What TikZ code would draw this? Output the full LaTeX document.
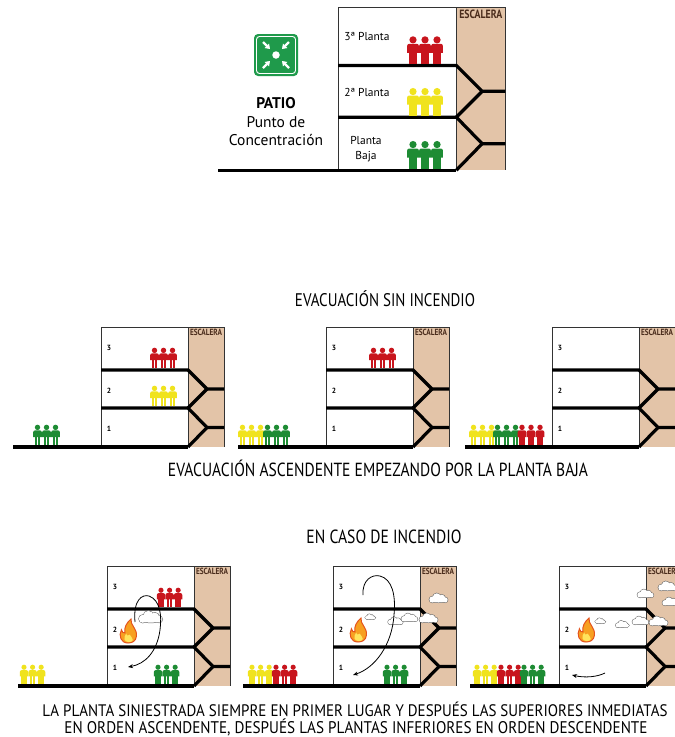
\documentclass[tikz,border=0pt]{standalone}
\usepackage{fontspec}
\usepackage{graphicx}
\setmainfont{PT Sans}
\newfontfamily\condensada[FakeStretch=0.82]{PT Sans}
\newfontfamily\piefuente[FakeStretch=0.9]{PT Sans}
\usetikzlibrary{arrows.meta}

\definecolor{rojo}{HTML}{C8151D}
\definecolor{amarillo}{HTML}{F0E31E}
\definecolor{verde}{HTML}{1E8C34}
\definecolor{escalera}{HTML}{E3C4A8}
\definecolor{verdeicono}{HTML}{1F9A4B}
\definecolor{marron}{HTML}{4A2C1C}
\definecolor{llamaext}{HTML}{E4531E}
\definecolor{llamamed}{HTML}{F7A021}
\definecolor{llamaint}{HTML}{FFE45C}

\tikzset{
  suelo/.style={line width=3.2pt, black},
  muro/.style={line width=0.8pt, black!80},
  flecha/.style={line width=0.8pt, -{Stealth[length=5pt,width=4pt]}},
  rotulo/.style={inner sep=0, font=\condensada},
  planta/.style={inner sep=0, font=\bfseries\fontsize{7.5}{8}\selectfont},
  patio/.style={inner sep=0, font=\fontsize{15.5}{17}\selectfont},
  etiqueta/.style={inner sep=0, font=\fontsize{11.5}{12}\selectfont},
  persona/.pic={
    \fill[pic actions] (0,-20.6) circle (3.1);
    \fill[pic actions] (-5,-9.5) [rounded corners=2] -- (-5,-17.2) -- (5,-17.2) [sharp corners] -- (5,-9.5) -- cycle;
    \fill[pic actions] (-3.3,0) rectangle (-0.35,-10.5);
    \fill[pic actions] (0.35,0) rectangle (3.3,-10.5);
  },
  fuego/.pic={
    \filldraw[fill=llamamed, draw=llamaext, line width=1pt]
      (0,0) .. controls (-6,0) and (-8,-6) .. (-5.5,-11)
      .. controls (-5,-8.5) and (-3.5,-8) .. (-2.5,-8.5)
      .. controls (-3.5,-13) and (-1,-17) .. (2.5,-20)
      .. controls (1.5,-15) and (8,-12) .. (7,-5.5)
      .. controls (6.5,-1.5) and (3.5,0) .. (0,0) -- cycle;
    \fill[llamaint]
      (0.5,-0.8) .. controls (-3.5,-0.8) and (-4,-4.5) .. (-1.5,-8)
      .. controls (-1,-5.5) and (0.5,-6) .. (1.5,-7)
      .. controls (2,-5) and (4.5,-4) .. (4,-2.5)
      .. controls (3.6,-1.2) and (2.5,-0.8) .. (0.5,-0.8) -- cycle;
  },
  nube/.pic={
    \draw[line width=1pt, black!62]
      (-4.5,-2) circle (2.5) (-1,-3.8) circle (3.2) (3,-3.1) circle (2.8)
      (5.7,-1.7) circle (2.1) (0.5,-1.2) ellipse (6 and 1.6);
    \fill[white]
      (-4.5,-2) circle (2.5) (-1,-3.8) circle (3.2) (3,-3.1) circle (2.8)
      (5.7,-1.7) circle (2.1) (0.5,-1.2) ellipse (6 and 1.6);
  }
}

% Building section: #1 left, #2 top, #3 scale, #4 start of the ground line,
% #5 width of the ESCALERA label, #6 name prefix
\newcommand\Edificio[6]{%
  \begin{scope}[shift={(#1,#2)}, scale=#3]
    \fill[escalera] (87,0) rectangle (123,120);
    \draw[muro] (0,120) -- (0,0) -- (123,0) -- (123,120);
    \draw[muro] (87,0) -- (87,120);
    \draw[suelo] (0,43) -- (87,43) -- (106,62) -- (123,62);
    \draw[suelo] (106,62) -- (87,81);
    \draw[suelo] (0,81) -- (87,81) -- (106,100.5) -- (123,100.5);
    \draw[suelo] (106,100.5) -- (87,120);
    \draw[suelo] ({(#4-#1)/#3},120) -- (87,120);
    \node[inner sep=0, anchor=north, text=marron, font=\bfseries\condensada]
      (#6-esc) at (105,2.2) {\resizebox{#5}{!}{ESCALERA}};
  \end{scope}}

% Floor numbers of the small sections
\newcommand\Numeros[3]{%
  \node[planta] (#3-n3) at (#1+8,#2+21) {3};
  \node[planta] (#3-n2) at (#1+8,#2+64) {2};
  \node[planta] (#3-n1) at (#1+8,#2+102) {1};}

% Three people: #1 first centre x, #2 feet y, #3 colour, #4 height
\newcommand\Grupo[4]{%
  \foreach \k in {0,1,2}{\pic[fill=#3, scale=#4/24] at ({#1+\k*10.3*#4/24},#2) {persona};}}

\begin{document}
\begin{tikzpicture}[x=1pt, y=-1pt]
\useasboundingbox (0,0) rectangle (675,737);
\fill[white] (0,0) rectangle (675,737);
\clip (0,0) rectangle (675,737);

% ---------- assembly point and main building ----------
\fill[verdeicono] (254,34) [rounded corners=4] rectangle (298,76);
\draw[white, line width=0.9pt, rounded corners=3] (256.5,36.5) rectangle (295.5,73.5);
\node[circle, fill=white, inner sep=0, minimum size=7.5pt] (punto) at (276,55) {};
\foreach \dx/\dy in {1/1,1/-1,-1/1,-1/-1}{
  \draw[white, line width=2.2pt, -{Triangle[length=4.5pt,width=6pt]}]
    (276+13*\dx,55+13*\dy) -- (276+6*\dx,55+6*\dy);}

\node[patio, font=\bfseries\fontsize{15.5}{17}\selectfont] (patio) at (276,103) {PATIO};
\node[patio] (puntode) at (276,122) {Punto de};
\node[patio] (concentracion) at (276,140) {Concentración};

\Edificio{338}{7}{1.36}{218}{43pt}{sup}
\node[etiqueta] (p3) at (367,36) {3ª Planta};
\node[etiqueta] (p2) at (367,92) {2ª Planta};
\node[etiqueta, align=center, font=\fontsize{11.5}{15.5}\selectfont] (pb) at (366,149) {Planta\\Baja};
\Grupo{413}{63.9}{rojo}{28}
\Grupo{413}{115.6}{amarillo}{28}
\Grupo{413}{168.6}{verde}{28}

% ---------- evacuation without fire ----------
\node[rotulo] (titulo1) at (385,299) {\resizebox{180pt}{!}{EVACUACIÓN SIN INCENDIO}};

\Edificio{101}{327}{1}{13}{32pt}{a1}
\Numeros{101}{327}{a1}
\Grupo{154.5}{368.4}{rojo}{21}
\Grupo{154.5}{406.4}{amarillo}{21}
\Grupo{37.5}{445.4}{verde}{21}

\Edificio{326}{327}{1}{238}{32pt}{a2}
\Numeros{326}{327}{a2}
\Grupo{373.5}{368.4}{rojo}{21}
\Grupo{242.5}{445.4}{amarillo}{21}
\Grupo{267.5}{445.4}{verde}{21}

\Edificio{552}{327}{1}{465}{32pt}{a3}
\Numeros{552}{327}{a3}
\Grupo{473.5}{445.4}{amarillo}{21}
\Grupo{497.5}{445.4}{verde}{21}
\Grupo{522}{445.4}{rojo}{21}

\node[rotulo] (titulo2) at (378,468) {\resizebox{420pt}{!}{EVACUACIÓN ASCENDENTE EMPEZANDO POR LA PLANTA BAJA}};

% ---------- evacuation with fire ----------
\node[rotulo] (titulo3) at (384,537) {\resizebox{155pt}{!}{EN CASO DE INCENDIO}};

\Edificio{107}{566}{1}{18}{32pt}{b1}
\Numeros{107}{566}{b1}
\pic at (128,643) [scale=1.2] {fuego};
\pic at (150,622) [scale=1.6] {nube};
\Grupo{161}{607.4}{rojo}{20}
\Grupo{158}{684.4}{verde}{20}
\Grupo{24}{684.4}{amarillo}{20}
\coordinate (b1-ini) at (135,622);
\coordinate (b1-arr) at (149,596);
\coordinate (b1-der) at (160,630);
\coordinate (b1-fin) at (128,667);
\draw[flecha] (b1-ini) .. controls (133,600) and (142,594) .. (b1-arr)
  .. controls (160,600) and (162,615) .. (b1-der)
  .. controls (157,652) and (145,664) .. (b1-fin);

\Edificio{333}{566}{1}{243}{32pt}{b2}
\Numeros{333}{566}{b2}
\pic at (358,642) [scale=1.2] {fuego};
\pic at (370,619) [scale=0.7] {nube};
\pic at (395,624) [scale=1.0] {nube};
\pic at (409,621) [scale=1.1] {nube};
\pic at (428,622) [scale=1.25] {nube};
\pic at (438,602) [scale=1.25] {nube};
\Grupo{387}{684.4}{verde}{20}
\Grupo{252}{684.4}{amarillo}{20}
\Grupo{276}{684.4}{rojo}{20}
\coordinate (b2-ini) at (363,595);
\coordinate (b2-arr) at (380,576);
\coordinate (b2-der) at (394,615);
\coordinate (b2-fin) at (353,675);
\draw[flecha] (b2-ini) .. controls (362,580) and (372,574) .. (b2-arr)
  .. controls (392,579) and (396,595) .. (b2-der)
  .. controls (392,645) and (375,668) .. (b2-fin);

\Edificio{559}{566}{1}{470}{32pt}{b3}
\Numeros{559}{566}{b3}
\pic at (586,642) [scale=1.2] {fuego};
\pic at (600,623) [scale=0.7] {nube};
\pic at (622,627) [scale=0.9] {nube};
\pic at (640,624) [scale=1.1] {nube};
\pic at (658,625) [scale=1.25] {nube};
\pic at (645,597) [scale=1.1] {nube};
\pic at (667,590) [scale=1.25] {nube};
\pic at (670,605) [scale=1.1] {nube};
\Grupo{477}{684.4}{amarillo}{20}
\Grupo{501}{684.4}{rojo}{20}
\Grupo{524}{684.4}{verde}{20}
\coordinate (b3-ini) at (605,673);
\coordinate (b3-fin) at (572,675);
\draw[flecha] (b3-ini) .. controls (597,677) and (585,678) .. (b3-fin);

\node[rotulo, font=\piefuente] (pie1) at (355,709) {\resizebox{625pt}{!}{LA PLANTA SINIESTRADA SIEMPRE EN PRIMER LUGAR Y DESPUÉS LAS SUPERIORES INMEDIATAS}};
\node[rotulo, font=\piefuente] (pie2) at (356,727) {\resizebox{583pt}{!}{EN ORDEN ASCENDENTE, DESPUÉS LAS PLANTAS INFERIORES EN ORDEN DESCENDENTE}};
\end{tikzpicture}
\end{document}
